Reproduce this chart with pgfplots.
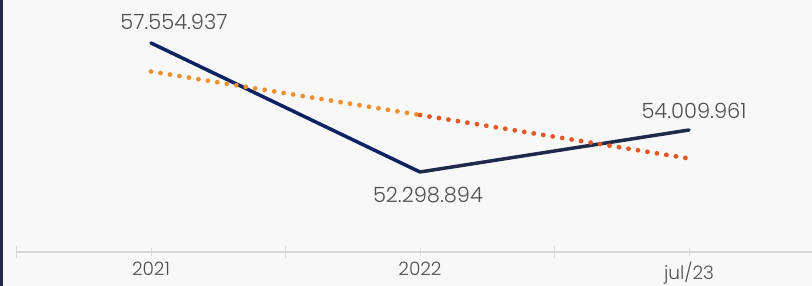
\documentclass[border=0pt]{standalone}
\usepackage{fontspec}
\setmainfont{Poppins Light}
\usepackage{pgfplots}
\pgfplotsset{compat=1.18}
\definecolor{bg}{HTML}{F8F8F9}
\definecolor{navyA}{HTML}{0D2262}
\definecolor{navyB}{HTML}{1E2A4A}
\definecolor{leftbar}{HTML}{1F2A44}
\definecolor{txt}{HTML}{505050}
\definecolor{axl}{HTML}{D9D9D9}
\begin{document}
\begin{tikzpicture}
\useasboundingbox (0,0) rectangle (812pt,286pt);
\clip (0,0) rectangle (812pt,286pt);
\fill[bg] (0,0) rectangle (812pt,286pt);
\fill[leftbar] (0,0) rectangle (3pt,286pt);
\begin{axis}[
  at={(16.5pt,34pt)}, anchor=south west,
  scale only axis, width=807pt, height=252pt,
  xmin=-0.5, xmax=2.5, ymin=49039374, ymax=59306929,
  axis x line*=bottom, axis y line=none,
  axis line style={axl, line width=1.5pt, -},
  xtick={0,1,2}, xticklabels={2021,2022,jul/23},
  major tick length=8pt, tick align=center,
  tick style={axl, line width=1pt},
  extra x ticks={-0.5,0.5,1.5,2.5}, extra x tick labels={},
  extra x tick style={major tick length=12pt},
  xticklabel style={font=\fontsize{18.5}{18.5}\selectfont, text=txt, yshift=-5pt, inner sep=1pt},
  clip=false,
]
\addplot[navyA, line width=3.5pt, line cap=round] coordinates {(0,57554937) (1,52298894)};
\addplot[navyB, line width=3.5pt, line cap=round] coordinates {(1,52298894) (2,54009961)};
\addplot[mesh, point meta=x, colormap={tr}{rgb255=(247,172,52) rgb255=(226,60,30)},
  line width=4.8pt, line cap=round, dash pattern=on 0pt off 9.6pt]
  coordinates {(0,56393752) (1,54621264) (2,52848776)};
\node[font=\fontsize{21}{21}\selectfont, text=txt] at ([xshift=23pt,yshift=21pt]axis cs:0,57554937) {57.554.937};
\node[font=\fontsize{21}{21}\selectfont, text=txt] at ([xshift=8pt,yshift=-23pt]axis cs:1,52298894) {52.298.894};
\node[font=\fontsize{21}{21}\selectfont, text=txt] at ([xshift=5pt,yshift=19pt]axis cs:2,54009961) {54.009.961};
\end{axis}
\end{tikzpicture}
\end{document}
